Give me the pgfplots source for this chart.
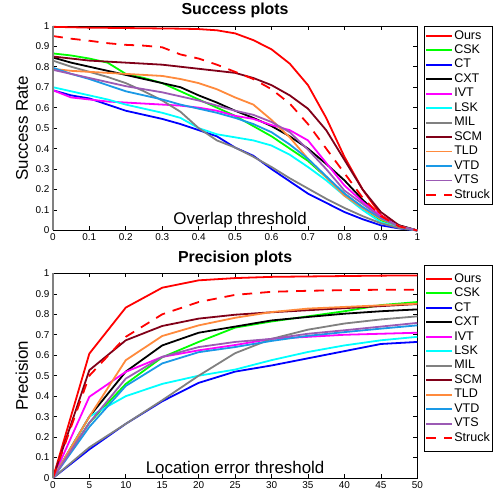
\documentclass[border=0pt]{standalone}
\usepackage{pgfplots}
\pgfplotsset{compat=1.18}
\usepackage{pgfplotstable}
\usepackage{fontspec}
\setmainfont{Liberation Sans}
\definecolor{cOurs}{rgb}{1,0,0}
\definecolor{cCSK}{rgb}{0,1,0}
\definecolor{cCT}{rgb}{0,0,1}
\definecolor{cCXT}{rgb}{0,0,0}
\definecolor{cIVT}{rgb}{1,0,1}
\definecolor{cLSK}{rgb}{0,1,1}
\definecolor{cMIL}{rgb}{0.5,0.5,0.5}
\definecolor{cSCM}{RGB}{128,0,24}
\definecolor{cTLD}{RGB}{255,138,60}
\definecolor{cVTD}{RGB}{26,153,230}
\definecolor{cVTS}{RGB}{155,90,180}

\pgfplotstableread{
x    Ours  CSK   CT    CXT   IVT   LSK   MIL   SCM   TLD   VTD   VTS   Struck
0    0.995 0.865 0.685 0.845 0.685 0.700 0.830 0.850 0.790 0.795 0.785 0.950
0.05 0.993 0.855 0.660 0.820 0.650 0.680 0.800 0.840 0.780 0.765 0.765 0.937
0.10 0.991 0.840 0.645 0.800 0.640 0.660 0.775 0.830 0.775 0.740 0.745 0.927
0.15 0.990 0.820 0.615 0.780 0.630 0.640 0.750 0.825 0.770 0.710 0.725 0.915
0.20 0.989 0.765 0.585 0.760 0.625 0.615 0.720 0.820 0.765 0.680 0.705 0.907
0.25 0.988 0.745 0.565 0.740 0.620 0.595 0.680 0.815 0.760 0.660 0.690 0.903
0.30 0.987 0.720 0.545 0.720 0.615 0.575 0.635 0.810 0.755 0.640 0.675 0.895
0.35 0.986 0.680 0.520 0.700 0.610 0.550 0.580 0.800 0.740 0.615 0.655 0.860
0.40 0.984 0.640 0.490 0.660 0.600 0.500 0.500 0.790 0.720 0.595 0.635 0.840
0.45 0.978 0.600 0.460 0.625 0.585 0.470 0.440 0.780 0.690 0.575 0.610 0.810
0.50 0.963 0.560 0.405 0.585 0.560 0.455 0.405 0.770 0.650 0.550 0.585 0.775
0.55 0.930 0.510 0.365 0.550 0.545 0.440 0.360 0.745 0.615 0.520 0.565 0.740
0.60 0.885 0.460 0.300 0.510 0.515 0.415 0.310 0.710 0.540 0.480 0.530 0.690
0.65 0.815 0.400 0.240 0.460 0.490 0.370 0.255 0.660 0.455 0.420 0.480 0.620
0.70 0.710 0.340 0.180 0.400 0.440 0.310 0.205 0.595 0.350 0.350 0.395 0.520
0.75 0.550 0.260 0.135 0.325 0.330 0.245 0.155 0.490 0.260 0.265 0.300 0.400
0.80 0.360 0.180 0.090 0.245 0.220 0.170 0.110 0.345 0.170 0.180 0.195 0.280
0.85 0.200 0.110 0.055 0.150 0.140 0.100 0.070 0.200 0.110 0.115 0.130 0.160
0.90 0.075 0.050 0.025 0.065 0.070 0.040 0.035 0.090 0.055 0.060 0.065 0.070
0.95 0.020 0.015 0.010 0.025 0.020 0.015 0.012 0.025 0.020 0.020 0.020 0.020
1.00 0     0     0     0     0     0     0     0     0     0     0     0
}\succtable

\pgfplotstableread{
x  Ours  CSK   CT    CXT   IVT   LSK   MIL   SCM   TLD   VTD   VTS   Struck
0  0     0     0     0     0     0     0     0     0     0     0     0
5  0.608 0.270 0.140 0.300 0.397 0.300 0.150 0.527 0.300 0.250 0.270 0.500
10 0.833 0.460 0.265 0.520 0.519 0.400 0.265 0.673 0.576 0.450 0.486 0.690
15 0.930 0.590 0.375 0.648 0.592 0.460 0.380 0.743 0.694 0.560 0.592 0.800
20 0.966 0.665 0.465 0.710 0.624 0.500 0.500 0.779 0.746 0.615 0.640 0.860
25 0.977 0.735 0.520 0.740 0.650 0.530 0.610 0.798 0.783 0.640 0.665 0.895
30 0.983 0.765 0.550 0.770 0.680 0.576 0.680 0.810 0.811 0.670 0.680 0.910
35 0.985 0.790 0.585 0.787 0.690 0.616 0.725 0.820 0.828 0.695 0.705 0.915
40 0.987 0.815 0.620 0.803 0.700 0.648 0.755 0.830 0.836 0.713 0.722 0.918
45 0.989 0.845 0.655 0.815 0.705 0.673 0.775 0.840 0.844 0.730 0.740 0.920
50 0.990 0.860 0.665 0.824 0.710 0.690 0.790 0.850 0.852 0.746 0.758 0.920
}\prectable

\pgfplotsset{
  myaxis/.style={
    scale only axis, width=365bp, height=205bp,
    ymin=0, ymax=1,
    ytick={0,0.1,0.2,0.3,0.4,0.5,0.6,0.7,0.8,0.9,1},
    tick align=inside, major tick length=4bp,
    axis line style={black, line width=0.6bp},
    every tick/.style={black, line width=0.6bp},
    tick label style={font=\fontsize{10}{12}\selectfont},
    /pgf/number format/assume math mode=true,
    clip=false,
    every axis plot/.append style={line width=1.8bp},
    label style={font=\fontsize{17}{20}\selectfont},
    title style={font=\bfseries\fontsize{16}{19}\selectfont, at={(0.5,1)}, anchor=base, yshift=5bp},
    ylabel style={at={(axis description cs:-0.085,0.5)}, anchor=center},
    legend style={at={(1,1)}, anchor=north west, xshift=7bp, draw=black, line width=0.5bp, fill=white,
      inner xsep=1bp, inner ysep=3bp, font=\fontsize{12.6}{13}\selectfont,
      nodes={inner sep=1bp, text height=9bp, text depth=2.5bp}, row sep=1.0bp},
    legend cell align=left,
    legend image code/.code={\draw[##1, line width=1.8bp] (0bp,0bp) -- (26bp,0bp);},
  }
}

\begin{document}
\begin{tikzpicture}
\path (0,0) rectangle (499bp,499bp);
\begin{axis}[myaxis, at={(53bp,269bp)}, anchor=south west,
  xmin=0, xmax=1,
  xtick={0,0.1,0.2,0.3,0.4,0.5,0.6,0.7,0.8,0.9,1},
  title={Success plots},
  ylabel={Success Rate},
  xlabel={Overlap threshold},
  xlabel style={at={(axis description cs:0.514,0)}, anchor=base, yshift=6bp},
]
\addplot[cOurs] table[x=x,y=Ours] {\succtable};
\addplot[cCSK] table[x=x,y=CSK] {\succtable};
\addplot[cCT] table[x=x,y=CT] {\succtable};
\addplot[cCXT] table[x=x,y=CXT] {\succtable};
\addplot[cIVT] table[x=x,y=IVT] {\succtable};
\addplot[cLSK] table[x=x,y=LSK] {\succtable};
\addplot[cMIL] table[x=x,y=MIL] {\succtable};
\addplot[cSCM] table[x=x,y=SCM] {\succtable};
\addplot[cTLD] table[x=x,y=TLD] {\succtable};
\addplot[cVTD] table[x=x,y=VTD] {\succtable};
\addplot[cVTS] table[x=x,y=VTS] {\succtable};
\addplot[cOurs, dash pattern=on 10bp off 8bp] table[x=x,y=Struck] {\succtable};
\legend{Ours,CSK,CT,CXT,IVT,LSK,MIL,SCM,TLD,VTD,VTS,Struck}
\draw[gray, line width=1.5bp] (axis cs:0,0) -- (axis cs:0,1);
\end{axis}
\begin{axis}[myaxis, at={(53bp,21bp)}, anchor=south west,
  xmin=0, xmax=50,
  xtick={0,5,10,15,20,25,30,35,40,45,50},
  title={Precision plots},
  ylabel={Precision},
  xlabel={Location error threshold},
  xlabel style={at={(axis description cs:0.5,0)}, anchor=base, yshift=5bp},
  legend style={yshift=8bp, inner ysep=6.5bp},
]
\addplot[cOurs] table[x=x,y=Ours] {\prectable};
\addplot[cCSK] table[x=x,y=CSK] {\prectable};
\addplot[cCT] table[x=x,y=CT] {\prectable};
\addplot[cCXT] table[x=x,y=CXT] {\prectable};
\addplot[cIVT] table[x=x,y=IVT] {\prectable};
\addplot[cLSK] table[x=x,y=LSK] {\prectable};
\addplot[cMIL] table[x=x,y=MIL] {\prectable};
\addplot[cSCM] table[x=x,y=SCM] {\prectable};
\addplot[cTLD] table[x=x,y=TLD] {\prectable};
\addplot[cVTD] table[x=x,y=VTD] {\prectable};
\addplot[cVTS] table[x=x,y=VTS] {\prectable};
\addplot[cOurs, dash pattern=on 10bp off 8bp] table[x=x,y=Struck] {\prectable};
\legend{Ours,CSK,CT,CXT,IVT,LSK,MIL,SCM,TLD,VTD,VTS,Struck}
\draw[gray, line width=1.5bp] (axis cs:0,0) -- (axis cs:0,1);
\end{axis}
\end{tikzpicture}
\end{document}
